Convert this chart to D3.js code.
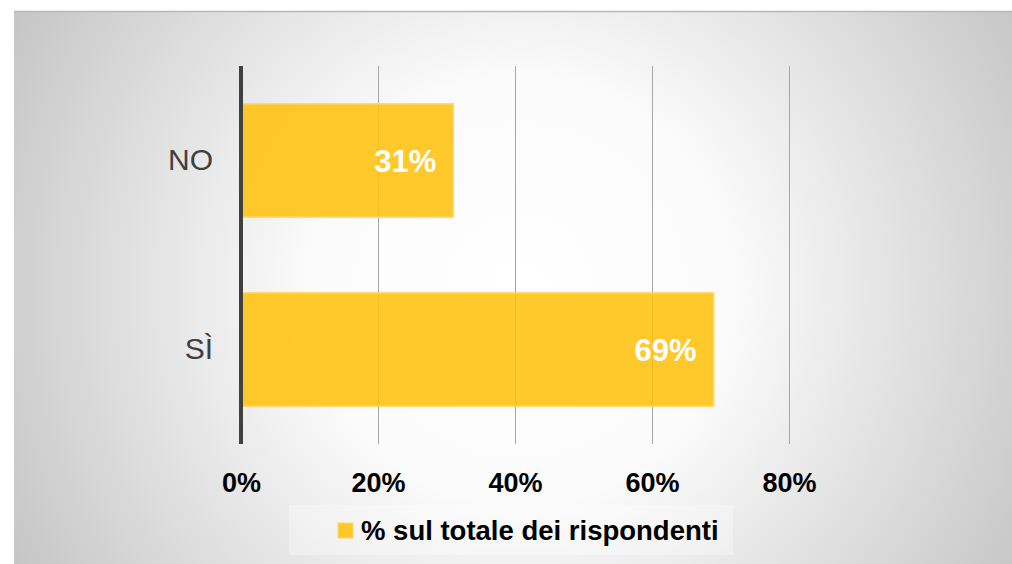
<!DOCTYPE html>
<html>
<head>
<meta charset="utf-8">
<script src="https://cdn.jsdelivr.net/npm/d3@7"></script>
<style>
  html, body { margin: 0; padding: 0; background: #ffffff; }
  svg { display: block; }
</style>
</head>
<body>
<svg id="chart" width="1012" height="564"></svg>
<script>
// ---- data ----
const categories = ["NO", "SÌ"];
const values = [31, 69];
const valueLabels = ["31%", "69%"];
const tickValues = [0, 20, 40, 60, 80];
const tickLabels = ["0%", "20%", "40%", "60%", "80%"];
const seriesName = "% sul totale dei rispondenti";

const svg = d3.select("#chart");
const W = 1012, H = 564;

// background panel with radial gradient
const defs = svg.append("defs");
const grad = defs.append("radialGradient")
  .attr("id", "bg").attr("gradientUnits", "userSpaceOnUse")
  .attr("cx", 520).attr("cy", 290).attr("r", 600);
grad.append("stop").attr("offset", "0%").attr("stop-color", "#ffffff");
grad.append("stop").attr("offset", "35%").attr("stop-color", "#fbfbfb");
grad.append("stop").attr("offset", "100%").attr("stop-color", "#c2c2c2");

svg.append("rect").attr("x", 14).attr("y", 11).attr("width", W - 14).attr("height", H - 11)
  .attr("fill", "url(#bg)");
svg.append("line").attr("x1", 14).attr("x2", W).attr("y1", 11.5).attr("y2", 11.5)
  .attr("stroke", "#b8b8b8").attr("stroke-width", 1.5);

// scales
const x = d3.scaleLinear().domain([0, 80]).range([241, 789]);
const y = d3.scaleBand().domain(categories).range([66, 444]).paddingInner(0.4).paddingOuter(0.2);

// gridlines
svg.append("g").selectAll("line").data(tickValues.slice(1)).join("line")
  .attr("x1", d => Math.round(x(d)) + 0.5).attr("x2", d => Math.round(x(d)) + 0.5)
  .attr("y1", 66).attr("y2", 444)
  .attr("stroke", "#a6a6a6").attr("stroke-width", 1);

// bars
svg.append("g").selectAll("rect").data(values).join("rect")
  .attr("x", x(0))
  .attr("y", (d, i) => y(categories[i]))
  .attr("width", d => x(d) - x(0))
  .attr("height", y.bandwidth())
  .attr("fill", "#FFC20E").attr("fill-opacity", 0.88)
  .attr("stroke", "#FFD96A").attr("stroke-width", 1.5);

// value labels
svg.append("g").selectAll("text").data(values).join("text")
  .attr("x", d => x(d) - 17)
  .attr("y", (d, i) => y(categories[i]) + y.bandwidth() / 2 + 1)
  .attr("text-anchor", "end").attr("dominant-baseline", "central")
  .attr("font-family", "'Liberation Sans', Arial, sans-serif")
  .attr("font-weight", "bold").attr("font-size", 31)
  .attr("fill", "#ffffff")
  .text((d, i) => valueLabels[i]);

// y axis (category labels + axis line)
const yAxis = d3.axisLeft(y).tickSize(0).tickPadding(28);
const gy = svg.append("g").attr("transform", `translate(${x(0)},0)`).call(yAxis);
gy.select(".domain").remove();
gy.selectAll("text")
  .attr("font-family", "'Liberation Sans', Arial, sans-serif")
  .attr("font-size", 30).attr("fill", "#404040");

svg.append("line").attr("x1", x(0)).attr("x2", x(0)).attr("y1", 66).attr("y2", 444)
  .attr("stroke", "#404040").attr("stroke-width", 4);

// x axis tick labels
const xAxis = d3.axisBottom(x).tickValues(tickValues)
  .tickFormat((d, i) => tickLabels[i]).tickSize(0).tickPadding(0);
const gx = svg.append("g").attr("transform", "translate(0,473)").call(xAxis);
gx.select(".domain").remove();
gx.selectAll("text")
  .attr("dy", "0.72em")
  .attr("font-family", "'Liberation Sans', Arial, sans-serif")
  .attr("font-weight", "bold").attr("font-size", 27).attr("fill", "#000000");

// legend
const lg = svg.append("g");
lg.append("rect").attr("x", 289).attr("y", 505).attr("width", 444).attr("height", 50)
  .attr("fill", "#ffffff").attr("fill-opacity", 0.3);
lg.append("rect").attr("x", 338).attr("y", 523).attr("width", 15).attr("height", 15)
  .attr("fill", "#FFC20E").attr("fill-opacity", 0.88)
  .attr("stroke", "#FFD96A").attr("stroke-width", 1);
lg.append("text").attr("x", 361).attr("y", 540)
  .attr("font-family", "'Liberation Sans', Arial, sans-serif")
  .attr("font-weight", "bold").attr("font-size", 27.5).attr("fill", "#000000")
  .text(seriesName);
</script>
</body>
</html>
